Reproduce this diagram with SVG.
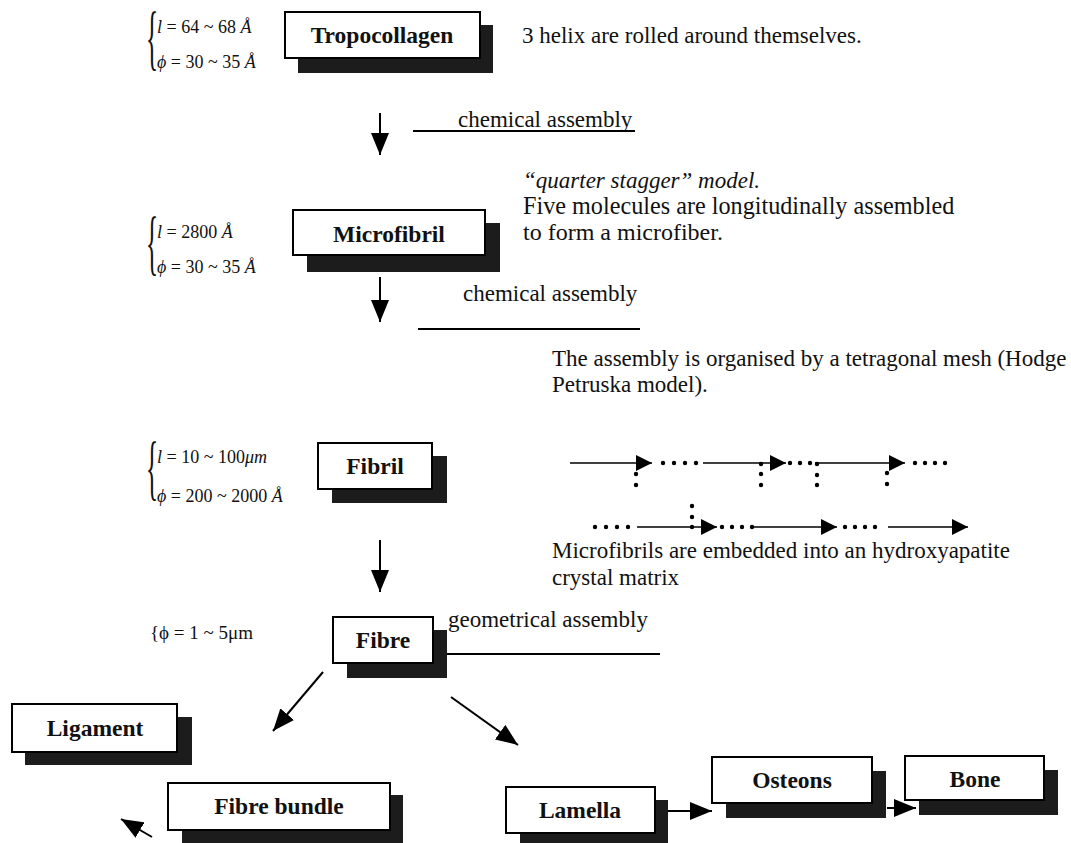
<svg xmlns="http://www.w3.org/2000/svg" width="1071" height="843" viewBox="0 0 1071 843">
<style>
.bg{fill:#ffffff}
.sh{fill:#1c1c1c}
.bx{fill:#ffffff;stroke:#000;stroke-width:2}
.lbl{font-family:"Liberation Serif",serif;font-weight:bold;font-size:23.5px;fill:#111;text-anchor:middle}
.txt{font-family:"Liberation Serif",serif;font-size:23px;fill:#111}
.eq{font-family:"Liberation Serif",serif;font-size:18px;fill:#111}
.brace{font-family:"Liberation Serif",serif;font-size:72px;fill:#111}
.it{font-style:italic}
.ln{stroke:#000;stroke-width:2;fill:none}
.ln2{stroke:#000;stroke-width:1.6;fill:none}
.dot{fill:#000}
</style>
<defs>
<marker id="ah" viewBox="0 0 22 18" refX="22" refY="9" markerWidth="22" markerHeight="18" orient="auto" markerUnits="userSpaceOnUse"><path d="M0,0 L22,9 L0,18 z" fill="#000"/></marker>
<marker id="ahs" viewBox="0 0 16 16" refX="16" refY="8" markerWidth="16" markerHeight="16" orient="auto" markerUnits="userSpaceOnUse"><path d="M0,0 L16,8 L0,16 z" fill="#000"/></marker>
</defs>
<rect class="bg" x="0" y="0" width="1071" height="843"/>

<g id="eq-tropocollagen">
<text class="brace" transform="translate(146,61) scale(0.35,1)">{</text>
<text class="eq" x="157" y="33"><tspan class="it">l</tspan> = 64 ~ 68 <tspan class="it">Å</tspan></text>
<text class="eq" x="157" y="68"><tspan class="it">ϕ</tspan> = 30 ~ 35 <tspan class="it">Å</tspan></text>
</g>
<g id="node-tropocollagen">
<rect class="sh" x="298" y="25" width="195" height="48"/>
<rect class="bx" x="285" y="12" width="195" height="46"/>
<text class="lbl" x="382" y="43">Tropocollagen</text>
</g>
<text class="txt" x="522" y="43">3 helix are rolled around themselves.</text>

<text class="txt" x="458" y="127">chemical assembly</text>
<line class="ln" x1="413" y1="131" x2="635" y2="131"/>

<text class="txt it" x="523" y="188">“quarter stagger” model.</text>
<text class="txt" x="523" y="214" style="font-size:24.2px">Five molecules are longitudinally assembled</text>
<text class="txt" x="523" y="240" style="font-size:24px">to form a microfiber.</text>

<g id="eq-microfibril">
<text class="brace" transform="translate(146,266) scale(0.35,1)">{</text>
<text class="eq" x="157" y="238"><tspan class="it">l</tspan> = 2800 <tspan class="it">Å</tspan></text>
<text class="eq" x="157" y="273"><tspan class="it">ϕ</tspan> = 30 ~ 35 <tspan class="it">Å</tspan></text>
</g>
<g id="node-microfibril">
<rect class="sh" x="307" y="223" width="193" height="49"/>
<rect class="bx" x="293" y="210" width="192" height="45"/>
<text class="lbl" x="389" y="242">Microfibril</text>
</g>

<text class="txt" x="463" y="301">chemical assembly</text>
<line class="ln" x1="418" y1="329" x2="640" y2="329"/>

<text class="txt" x="552" y="366">The assembly is organised by a tetragonal mesh (Hodge</text>
<text class="txt" x="552" y="392">Petruska model).</text>

<g id="eq-fibril">
<text class="brace" transform="translate(146,491) scale(0.35,1)">{</text>
<text class="eq" x="157" y="463"><tspan class="it">l</tspan> = 10 ~ 100<tspan class="it">μm</tspan></text>
<text class="eq" x="157" y="502"><tspan class="it">ϕ</tspan> = 200 ~ 2000 <tspan class="it">Å</tspan></text>
</g>
<g id="node-fibril">
<rect class="sh" x="332" y="456" width="115" height="47"/>
<rect class="bx" x="318" y="443" width="114" height="46"/>
<text class="lbl" x="375" y="474">Fibril</text>
</g>

<g id="mesh">
<line class="ln2" x1="570" y1="463" x2="652" y2="463" marker-end="url(#ahs)"/>
<circle class="dot" cx="663" cy="463" r="2.2"/><circle class="dot" cx="674" cy="463" r="2.2"/><circle class="dot" cx="685" cy="463" r="2.2"/><circle class="dot" cx="696" cy="463" r="2.2"/>
<line class="ln2" x1="703" y1="463" x2="786" y2="463" marker-end="url(#ahs)"/>
<circle class="dot" cx="790" cy="463" r="2.2"/><circle class="dot" cx="800" cy="463" r="2.2"/><circle class="dot" cx="810" cy="463" r="2.2"/>
<line class="ln2" x1="815" y1="463" x2="905" y2="463" marker-end="url(#ahs)"/>
<circle class="dot" cx="915" cy="463" r="2.2"/><circle class="dot" cx="925" cy="463" r="2.2"/><circle class="dot" cx="935" cy="463" r="2.2"/><circle class="dot" cx="945" cy="463" r="2.2"/>
<circle class="dot" cx="636" cy="474" r="2.2"/><circle class="dot" cx="636" cy="485" r="2.2"/>
<circle class="dot" cx="761" cy="464" r="2.2"/><circle class="dot" cx="761" cy="474" r="2.2"/><circle class="dot" cx="761" cy="485" r="2.2"/>
<circle class="dot" cx="817" cy="464" r="2.2"/><circle class="dot" cx="817" cy="475" r="2.2"/><circle class="dot" cx="817" cy="485" r="2.2"/>
<circle class="dot" cx="887" cy="473" r="2.2"/><circle class="dot" cx="887" cy="484" r="2.2"/>
<circle class="dot" cx="595" cy="527" r="2.2"/><circle class="dot" cx="606" cy="527" r="2.2"/><circle class="dot" cx="617" cy="527" r="2.2"/><circle class="dot" cx="628" cy="527" r="2.2"/>
<line class="ln2" x1="637" y1="527" x2="717" y2="527" marker-end="url(#ahs)"/>
<circle class="dot" cx="692" cy="506" r="2.2"/><circle class="dot" cx="692" cy="517" r="2.2"/><circle class="dot" cx="692" cy="527" r="2.2"/>
<circle class="dot" cx="722" cy="527" r="2.2"/><circle class="dot" cx="732" cy="527" r="2.2"/><circle class="dot" cx="742" cy="527" r="2.2"/><circle class="dot" cx="752" cy="527" r="2.2"/>
<line class="ln2" x1="752" y1="527" x2="837" y2="527" marker-end="url(#ahs)"/>
<circle class="dot" cx="845" cy="527" r="2.2"/><circle class="dot" cx="855" cy="527" r="2.2"/><circle class="dot" cx="865" cy="527" r="2.2"/><circle class="dot" cx="875" cy="527" r="2.2"/>
<line class="ln2" x1="888" y1="527" x2="968" y2="527" marker-end="url(#ahs)"/>
</g>
<text class="txt" x="552" y="558">Microfibrils are embedded into an hydroxyapatite</text>
<text class="txt" x="552" y="585">crystal matrix</text>

<text class="eq" x="150" y="639" style="font-size:19px">{ϕ = 1 ~ 5μm</text>

<g id="node-fibre">
<rect class="sh" x="347" y="630" width="100" height="48"/>
<rect class="bx" x="333" y="617" width="100" height="46"/>
<text class="lbl" x="383" y="648">Fibre</text>
</g>
<text class="txt" x="448" y="627">geometrical assembly</text>
<line class="ln" x1="447" y1="654" x2="660" y2="654"/>

<g id="node-ligament">
<rect class="sh" x="25" y="717" width="167" height="48"/>
<rect class="bx" x="12" y="704" width="165" height="48"/>
<text class="lbl" x="95" y="736">Ligament</text>
</g>
<g id="node-fibre-bundle">
<rect class="sh" x="182" y="795" width="221" height="50"/>
<rect class="bx" x="168" y="783" width="222" height="47"/>
<text class="lbl" x="279" y="814">Fibre bundle</text>
</g>
<g id="node-lamella">
<rect class="sh" x="520" y="800" width="148" height="45"/>
<rect class="bx" x="506" y="787" width="149" height="46"/>
<text class="lbl" x="580" y="818">Lamella</text>
</g>
<g id="node-osteons">
<rect class="sh" x="726" y="771" width="160" height="47"/>
<rect class="bx" x="712" y="757" width="160" height="46"/>
<text class="lbl" x="792" y="788">Osteons</text>
</g>
<g id="node-bone">
<rect class="sh" x="919" y="770" width="139" height="45"/>
<rect class="bx" x="905" y="756" width="139" height="44"/>
<text class="lbl" x="975" y="787">Bone</text>
</g>

<g id="connectors">
<line class="ln" x1="380" y1="113" x2="380" y2="155" marker-end="url(#ah)"/>
<line class="ln" x1="380" y1="277" x2="380" y2="322" marker-end="url(#ah)"/>
<line class="ln" x1="380" y1="540" x2="380" y2="592" marker-end="url(#ah)"/>
<line class="ln" x1="323" y1="672" x2="273" y2="731" marker-end="url(#ah)"/>
<line class="ln" x1="451" y1="697" x2="518" y2="745" marker-end="url(#ah)"/>
<line class="ln" x1="152" y1="837" x2="121" y2="819" marker-end="url(#ah)"/>
<line class="ln" x1="668" y1="811" x2="712" y2="811" marker-end="url(#ah)"/>
<line class="ln" x1="887" y1="808" x2="916" y2="808" marker-end="url(#ah)"/>
</g>
</svg>
